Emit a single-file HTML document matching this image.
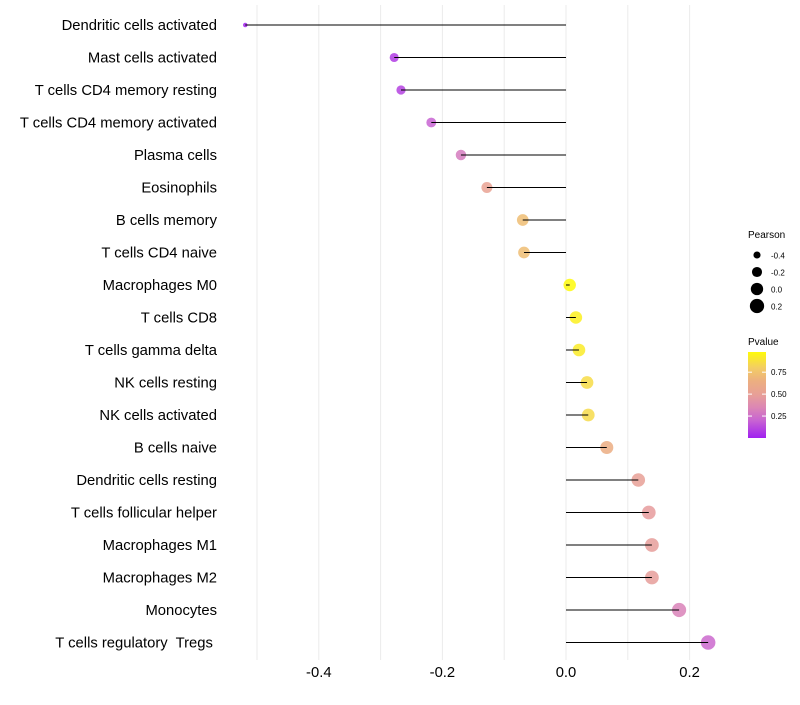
<!DOCTYPE html>
<html><head><meta charset="utf-8"><style>
body{margin:0;background:#fff;font-family:"Liberation Sans",sans-serif}
text{white-space:pre}
</style></head><body>
<svg id="chart" width="800" height="700" xmlns="http://www.w3.org/2000/svg" style="font-family:'Liberation Sans',sans-serif">
<g id="grid"></g>
<g id="dots"></g>
<g id="marks"></g>
<g id="ylabels"></g>
<g id="xlabels"></g>
<g id="legend"></g>
</svg>
<script>
const categories=["Dendritic cells activated","Mast cells activated","T cells CD4 memory resting","T cells CD4 memory activated","Plasma cells","Eosinophils","B cells memory","T cells CD4 naive","Macrophages M0","T cells CD8","T cells gamma delta","NK cells resting","NK cells activated","B cells naive","Dendritic cells resting","T cells follicular helper","Macrophages M1","Macrophages M2","Monocytes","T cells regulatory  Tregs "];
const pearson=[-0.519,-0.278,-0.267,-0.218,-0.170,-0.128,-0.070,-0.068,0.006,0.016,0.021,0.034,0.036,0.066,0.117,0.134,0.139,0.139,0.183,0.230];
const pvalue=[0.01,0.08,0.10,0.20,0.30,0.52,0.72,0.72,0.98,0.94,0.92,0.86,0.85,0.63,0.50,0.47,0.48,0.48,0.33,0.22];
const xTicks=[-0.4,-0.2,0.0,0.2];
const xTickLabels=["-0.4","-0.2","0.0","0.2"];
const sizeLegend=[-0.4,-0.2,0.0,0.2];
const colorTicks=[0.25,0.5,0.75];

const NS="http://www.w3.org/2000/svg";
const x=v=>566+v*618;
const y=i=>25+i*32.5;
const r=v=>Math.sqrt(Math.max(1,5+(v+0.52)*64));
const stops=[[0,[160,32,240]],[0.2,[200,100,210]],[0.35,[220,135,180]],[0.5,[232,160,150]],[0.65,[236,175,128]],[0.8,[243,205,100]],[1,[255,255,0]]];
function col(p){p=Math.max(0,Math.min(1,p));for(let k=1;k<stops.length;k++){if(p<=stops[k][0]){const a=stops[k-1],b=stops[k],t=(p-a[0])/(b[0]-a[0]);return"rgb("+a[1].map((c,j)=>Math.round(c+(b[1][j]-c)*t)).join(",")+")";}}}
function mk(tag,attrs,parent){const e=document.createElementNS(NS,tag);for(const k in attrs)e.setAttribute(k,attrs[k]);parent.appendChild(e);return e;}
const grid=document.getElementById('grid'),marks=document.getElementById('marks'),dots=document.getElementById('dots'),yl=document.getElementById('ylabels'),xl=document.getElementById('xlabels'),lg=document.getElementById('legend');
[-0.5,-0.4,-0.3,-0.2,-0.1,0,0.1,0.2].forEach(v=>{
 const l=mk('line',{x1:x(v),x2:x(v),y1:5,y2:660,stroke:'#ebebeb','stroke-width':1},grid);
 
 
});
categories.forEach((c,i)=>{
 const dot=mk('circle',{cx:x(pearson[i]),cy:y(i),r:r(pearson[i]),fill:col(pvalue[i]),'fill-opacity':0.85},dots);
 
 
 const seg=mk('line',{x1:x(0),x2:x(pearson[i]),y1:y(i),y2:y(i),stroke:'#000','stroke-width':1},marks);
 
 
 const t=mk('text',{x:217,y:y(i)+5,'text-anchor':'end','font-size':14.8,fill:'#000'},yl);
 t.textContent=c;
 
 
});
xTicks.forEach((v,i)=>{
 const t=mk('text',{x:x(v),y:677,'text-anchor':'middle','font-size':14.8,fill:'#000'},xl);
 t.textContent=xTickLabels[i];
 
 
});
const pt=mk('text',{x:748,y:238,'font-size':10},lg);pt.textContent='Pearson';


sizeLegend.forEach((v,i)=>{
 const cy=255+i*17;
 const c=mk('circle',{cx:757,cy:cy,r:r(v),fill:'#000'},lg);
 
 
 const t=mk('text',{x:771,y:cy+3.5,'font-size':8},lg);t.textContent=(v===0?'0.0':v.toFixed(1));
 
 
});
const vt=mk('text',{x:748,y:345,'font-size':10},lg);vt.textContent='Pvalue';


const defs=mk('defs',{},lg);const gr=mk('linearGradient',{id:'pg',x1:0,y1:1,x2:0,y2:0},defs);
stops.forEach(s=>{if(s[0]<=0.98)mk('stop',{offset:s[0]/0.98,'stop-color':col(s[0])},gr);});
mk('stop',{offset:1,'stop-color':col(0.98)},gr);
const cb=mk('rect',{x:748,y:352,width:18,height:86,fill:'url(#pg)'},lg);


const cy=p=>438-p*86/0.98;
colorTicks.forEach(p=>{
 mk('line',{x1:748,x2:752,y1:cy(p),y2:cy(p),stroke:'#fff'},lg);
 mk('line',{x1:762,x2:766,y1:cy(p),y2:cy(p),stroke:'#fff'},lg);
 const t=mk('text',{x:771,y:cy(p)+3,'font-size':8},lg);t.textContent=p.toFixed(2);
 
 
});
</script>
</body></html>
